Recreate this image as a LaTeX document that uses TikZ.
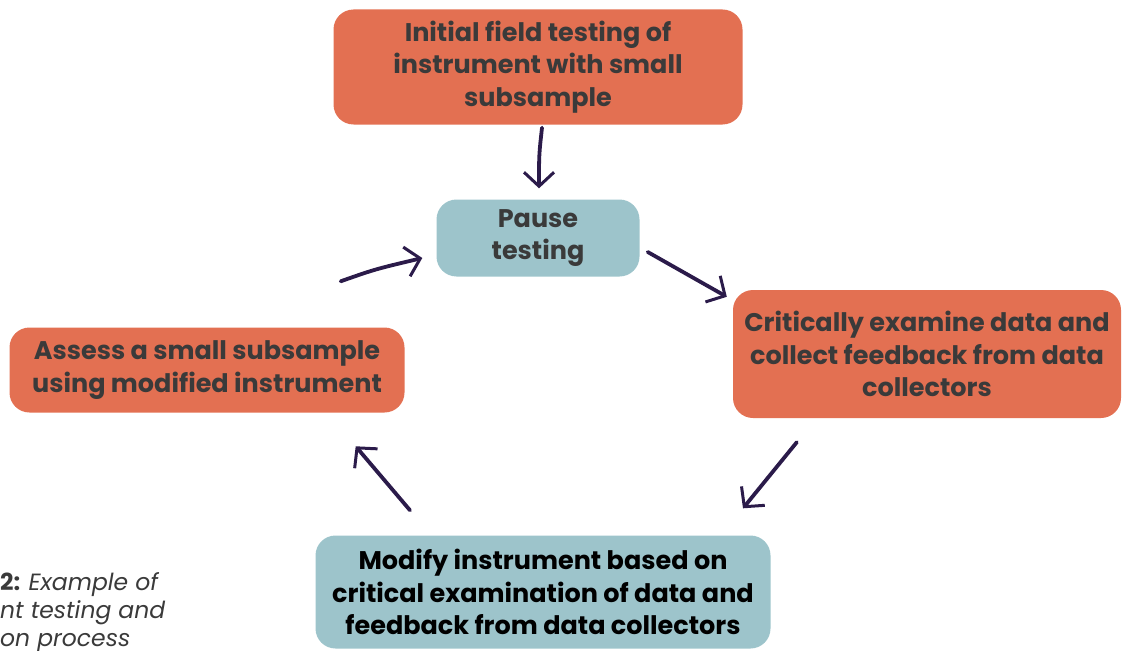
\documentclass[tikz,border=0pt]{standalone}
\usepackage{fontspec}
\setmainfont{Poppins}[BoldFont=* Bold, ItalicFont=* Italic, BoldItalicFont=* Bold Italic]
\usetikzlibrary{arrows.meta,calc}
\definecolor{boxorange}{HTML}{E37052}
\definecolor{boxteal}{HTML}{9DC4CB}
\definecolor{arrowink}{HTML}{2B1B4A}
\definecolor{textgray}{HTML}{3A3A3A}
\begin{document}
\begin{tikzpicture}[x=1pt,y=-1pt,
  stepbox/.style={rounded corners=20pt, inner sep=0pt, align=center,
    font=\fontsize{25.5}{32.5}\selectfont\bfseries, text=textgray},
  orangebox/.style={stepbox, fill=boxorange},
  tealbox/.style={stepbox, fill=boxteal},
  flow/.style={draw=arrowink, line width=3.8pt, line cap=round,
    -{Straight Barb[length=14pt,width=30pt,line width=3pt]}}]
\useasboundingbox (0,0) rectangle (1123,650);

% process steps
\node[orangebox, minimum width=409pt, minimum height=115pt] (init) at (538,67)
  {Initial field testing of\\instrument with small\\subsample};
\node[tealbox, minimum width=203pt, minimum height=77pt] (pause) at (538,238)
  {Pause\\testing};
\node[orangebox, minimum width=388pt, minimum height=128pt] (exam) at (927,354)
  {Critically examine data and\\collect feedback from data\\collectors};
\node[tealbox, text=black, minimum width=455pt, minimum height=113pt] (modify) at (543,592)
  {Modify instrument based on\\critical examination of data and\\feedback from data collectors};
\node[orangebox, minimum width=395pt, minimum height=85pt] (assess) at (207,370)
  {Assess a small subsample\\using modified instrument};

% caption
\node[anchor=north west, inner sep=0pt, align=left, text=textgray,
  font=\fontsize{23.5}{28}\selectfont] (caption) at (0,572)
  {\textbf{2:} \textit{Example of}\\\textit{nt testing and}\\\textit{on process}};

% connectors
\draw[flow] ($(init.south)+(4,3)$) .. controls ($(init.south)+(1,30)$) .. ($(pause.north)+(1,-11)$);
\draw[flow] ($(pause.east)+(8,14)$) -- ($(exam.north west)+(-6,7)$);
\draw[flow] ($(exam.south west)+(64,24)$) -- ($(modify.north)+(200,-27)$);
\draw[flow] ($(modify.north)+(-133,-25)$) -- ($(assess.north east)+(-49,119)$);
\draw[flow] ($(assess.north east)+(-64,-46)$) .. controls ($(assess.north east)+(-30,-58)$) .. ($(pause.west)+(-14,20)$);
\end{tikzpicture}
\end{document}
